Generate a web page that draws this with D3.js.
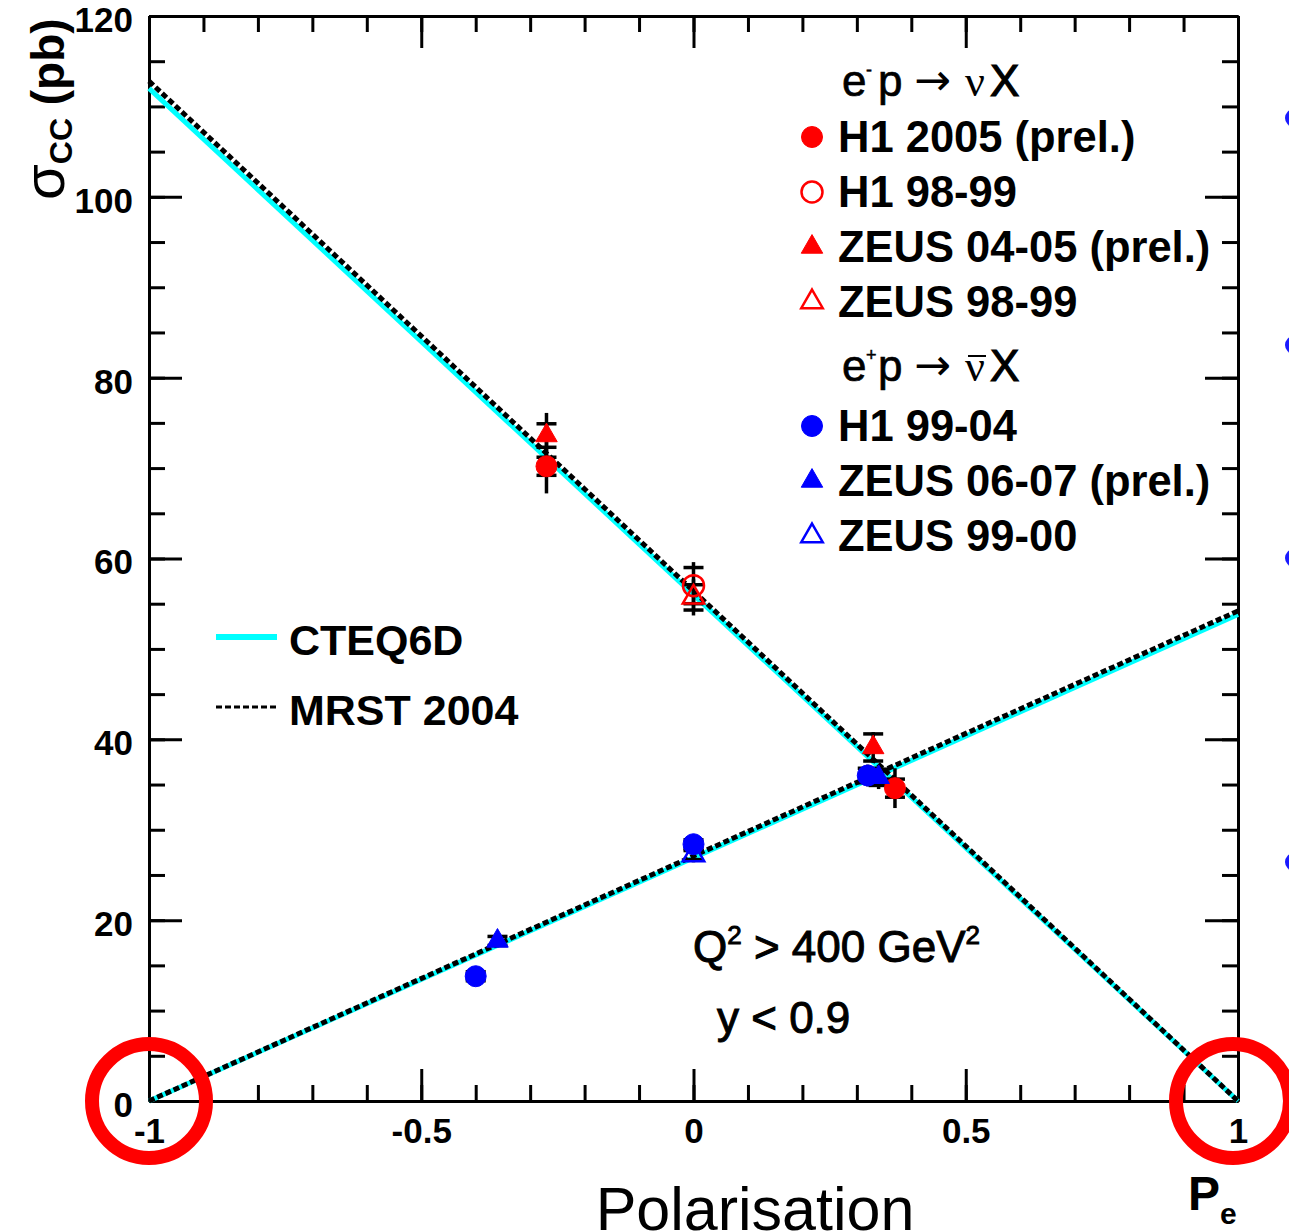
<!DOCTYPE html>
<html>
<head>
<meta charset="utf-8">
<script src="https://cdn.jsdelivr.net/npm/d3@7"></script>
<style>
  html, body { margin: 0; padding: 0; background: #fff; }
  svg { display: block; }
</style>
</head>
<body>
<div id="chart"></div>
<script>
// CC cross section vs lepton beam polarisation

// SM predictions, straight lines between the ends of the P range
const lineP = [-1, 1];
const cteqEminus = [112.0, 0.0];
const mrstEminus = [112.8, 0.0];
const cteqEplus = [0.0, 53.8];
const mrstEplus = [0.0, 54.2];

// measurements: [P, sigma, stat err, total err]
const h1_2005 = [[-0.27, 70.2, 1.0, 3.0], [0.37, 34.6, 1.0, 2.2]];
const h1_9899 = [[0.0, 57.0, 2.0, 2.6]];
const zeus_0405 = [[-0.27, 73.6, 1.3, 2.5], [0.33, 39.1, 1.5, 1.7]];
const zeus_9899 = [[0.0, 55.7, 1.4, 2.0]];
const h1_9904 = [[-0.40, 13.8, 0.5, 0.8], [0.0, 28.4, 0.5, 0.7], [0.32, 36.0, 0.8, 1.2]];
const zeus_0607 = [[-0.36, 17.7, 0.5, 0.7], [0.34, 35.8, 0.9, 1.3]];
const zeus_9900 = [[0.0, 27.2, 0.5, 0.8]];

const xMajorTicks = [-1, -0.5, 0, 0.5, 1];
const xMajorLabels = ["-1", "-0.5", "0", "0.5", "1"];
const xMinorTicks = [-1, -0.9, -0.8, -0.7, -0.6, -0.5, -0.4, -0.3, -0.2, -0.1, 0,
                     0.1, 0.2, 0.3, 0.4, 0.5, 0.6, 0.7, 0.8, 0.9, 1];
const yMajorTicks = [0, 20, 40, 60, 80, 100, 120];
const yMinorTicks = [0, 5, 10, 15, 20, 25, 30, 35, 40, 45, 50, 55, 60,
                     65, 70, 75, 80, 85, 90, 95, 100, 105, 110, 115, 120];

const legendNames = ["H1 2005 (prel.)", "H1 98-99", "ZEUS 04-05 (prel.)", "ZEUS 98-99",
                     "H1 99-04", "ZEUS 06-07 (prel.)", "ZEUS 99-00"];
const modelNames = ["CTEQ6D", "MRST 2004"];

const RED = "#ff0000", BLUE = "#0000ff", CYAN = "#00ffff";
const SANS = "'Liberation Sans', Arial, Helvetica, sans-serif";
const SERIF = "'Liberation Serif', 'DejaVu Serif', serif";

const datasets = [
    { pts: h1_2005,   color: RED,  shape: "circle",   filled: true,  name: legendNames[0], ly: 137 },
    { pts: h1_9899,   color: RED,  shape: "circle",   filled: false, name: legendNames[1], ly: 192 },
    { pts: zeus_0405, color: RED,  shape: "triangle", filled: true,  name: legendNames[2], ly: 247 },
    { pts: zeus_9899, color: RED,  shape: "triangle", filled: false, name: legendNames[3], ly: 302 },
    { pts: h1_9904,   color: BLUE, shape: "circle",   filled: true,  name: legendNames[4], ly: 426 },
    { pts: zeus_0607, color: BLUE, shape: "triangle", filled: true,  name: legendNames[5], ly: 481 },
    { pts: zeus_9900, color: BLUE, shape: "triangle", filled: false, name: legendNames[6], ly: 536 }
];

const width = 1289, height = 1232;
const plotLeft = 149, plotRight = 1238, plotTop = 16, plotBottom = 1101;

const svg = d3.select("#chart").append("svg")
    .attr("width", width)
    .attr("height", height)
    .style("background", "#fff");

const x = d3.scaleLinear().domain([-1, 1]).range([plotLeft, plotRight]);
const y = d3.scaleLinear().domain([0, 120]).range([plotBottom, plotTop]);

// axes, ticks inward on all four sides
function styleAxis(g) {
    g.selectAll("path.domain").attr("stroke", "#000").attr("stroke-width", 3);
    g.selectAll(".tick line").attr("stroke", "#000").attr("stroke-width", 3);
}

const axisFont = g => g.selectAll("text")
    .attr("fill", "#000")
    .style("font-family", SANS)
    .style("font-size", "35px")
    .style("font-weight", "bold");

svg.append("g").attr("transform", `translate(0,${plotBottom})`)
    .call(d3.axisBottom(x).tickValues(xMinorTicks).tickSize(-16).tickSizeOuter(0).tickFormat(""))
    .call(styleAxis);
svg.append("g").attr("transform", `translate(0,${plotBottom})`)
    .call(d3.axisBottom(x).tickValues(xMajorTicks).tickSize(-32).tickSizeOuter(0).tickPadding(17)
        .tickFormat((d, i) => xMajorLabels[i]))
    .call(styleAxis).call(axisFont);

svg.append("g").attr("transform", `translate(0,${plotTop})`)
    .call(d3.axisTop(x).tickValues(xMinorTicks).tickSize(-16).tickSizeOuter(0).tickFormat(""))
    .call(styleAxis);
svg.append("g").attr("transform", `translate(0,${plotTop})`)
    .call(d3.axisTop(x).tickValues(xMajorTicks).tickSize(-32).tickSizeOuter(0).tickFormat(""))
    .call(styleAxis);

svg.append("g").attr("transform", `translate(${plotLeft},0)`)
    .call(d3.axisLeft(y).tickValues(yMinorTicks).tickSize(-16).tickSizeOuter(0).tickFormat(""))
    .call(styleAxis);
svg.append("g").attr("transform", `translate(${plotLeft},0)`)
    .call(d3.axisLeft(y).tickValues(yMajorTicks).tickSize(-33).tickSizeOuter(0).tickPadding(16)
        .tickFormat(d3.format("d")))
    .call(styleAxis).call(axisFont)
    .selectAll("text").attr("dy", "0.44em");

svg.append("g").attr("transform", `translate(${plotRight},0)`)
    .call(d3.axisRight(y).tickValues(yMinorTicks).tickSize(-16).tickSizeOuter(0).tickFormat(""))
    .call(styleAxis);
svg.append("g").attr("transform", `translate(${plotRight},0)`)
    .call(d3.axisRight(y).tickValues(yMajorTicks).tickSize(-33).tickSizeOuter(0).tickFormat(""))
    .call(styleAxis);

// model lines
const line = d3.line().x(d => x(d[0])).y(d => y(d[1]));
const zipP = vals => lineP.map((p, i) => [p, vals[i]]);

[cteqEplus, cteqEminus].forEach(v => {
    svg.append("path").datum(zipP(v)).attr("d", line)
        .attr("fill", "none").attr("stroke", CYAN).attr("stroke-width", 5);
});
[mrstEplus, mrstEminus].forEach(v => {
    svg.append("path").datum(zipP(v)).attr("d", line)
        .attr("fill", "none").attr("stroke", "#000").attr("stroke-width", 5)
        .attr("stroke-dasharray", "6,3");
});

// markers
const circleSym = d3.symbol().type(d3.symbolCircle).size(Math.PI * 10.5 * 10.5);
const triSym = d3.symbol().type(d3.symbolTriangle).size(200);

function drawMarker(g, ds, cx, cy) {
    g.append("path")
        .attr("d", ds.shape === "circle" ? circleSym() : triSym())
        .attr("transform", `translate(${cx},${cy})`)
        .attr("fill", ds.filled ? ds.color : "none")
        .attr("stroke", ds.color)
        .attr("stroke-width", ds.filled ? 1 : 2.5);
}

// error bars: full line = total, caps at stat error
const bars = svg.append("g");
datasets.forEach(ds => {
    ds.pts.forEach(p => {
        const cx = x(p[0]);
        bars.append("line")
            .attr("x1", cx).attr("x2", cx)
            .attr("y1", y(p[1] - p[3])).attr("y2", y(p[1] + p[3]))
            .attr("stroke", "#000").attr("stroke-width", 3.5);
        [p[1] - p[2], p[1] + p[2]].forEach(v => {
            bars.append("line")
                .attr("x1", cx - 10).attr("x2", cx + 10)
                .attr("y1", y(v)).attr("y2", y(v))
                .attr("stroke", "#000").attr("stroke-width", 3.5);
        });
    });
});

const marks = svg.append("g");
datasets.forEach(ds => {
    ds.pts.forEach(p => drawMarker(marks, ds, x(p[0]), y(p[1])));
});

// data legend
const leg = svg.append("g");
datasets.forEach(ds => {
    drawMarker(leg, ds, 812, ds.ly);
    leg.append("text")
        .attr("x", 838).attr("y", ds.ly + 15)
        .style("font-family", SANS).style("font-size", "43.5px").style("font-weight", "bold")
        .text(ds.name);
});

// reaction headers, glyphs placed one by one
function header(yb, sup, bar) {
    const g = leg.append("g");
    const put = (tx, ty, s, fam, size, sw) => g.append("text")
        .attr("x", tx).attr("y", ty)
        .style("font-family", fam).style("font-size", size + "px")
        .attr("stroke", "#000").attr("stroke-width", sw)
        .text(s);
    put(842, yb, "e", SANS, 44, 0.7);
    put(866, yb - 20, sup, SANS, 18, 0.5);
    put(878, yb, "p", SANS, 44, 0.7);
    put(914, yb - 1, "\u2192", "'DejaVu Sans'", 44, 0);
    put(965, yb, "\u03bd", SERIF, 44, 0);
    put(990, yb, "X", SANS, 44, 1.2);
    if (bar) {
        g.append("line").attr("x1", 968).attr("x2", 986)
            .attr("y1", yb - 25).attr("y2", yb - 25)
            .attr("stroke", "#000").attr("stroke-width", 2);
    }
}
header(96, "-", false);
header(381, "+", true);

// model legend
leg.append("line").attr("x1", 216).attr("x2", 277).attr("y1", 637).attr("y2", 637)
    .attr("stroke", CYAN).attr("stroke-width", 6);
leg.append("line").attr("x1", 216).attr("x2", 277).attr("y1", 707).attr("y2", 707)
    .attr("stroke", "#000").attr("stroke-width", 3).attr("stroke-dasharray", "6,3");
modelNames.forEach((n, i) => {
    leg.append("text").attr("x", 289).attr("y", 655 + i * 70)
        .style("font-family", SANS).style("font-size", "43px").style("font-weight", "bold")
        .text(n);
});

// cuts
const cuts = svg.append("g")
    .style("font-family", SANS).style("font-size", "44px")
    .attr("stroke", "#000").attr("stroke-width", 1);
const q = cuts.append("text").attr("x", 693).attr("y", 962);
q.append("tspan").text("Q");
q.append("tspan").attr("dy", -18).style("font-size", "26px").text("2");
q.append("tspan").attr("dy", 18).text(" > 400 GeV");
q.append("tspan").attr("dy", -18).style("font-size", "26px").text("2");
cuts.append("text").attr("x", 717).attr("y", 1033).text("y < 0.9");

// axis titles
const yt = svg.append("text").attr("transform", "translate(64,200) rotate(-90)")
    .style("font-family", SANS);
yt.append("tspan").style("font-size", "58px").text("\u03c3");
yt.append("tspan").attr("dy", 8).style("font-size", "32px").style("font-weight", "bold").text("CC");
yt.append("tspan").attr("dy", -8).style("font-size", "46px").style("font-weight", "bold").text(" (pb)");

const xt = svg.append("text").attr("x", 1188).attr("y", 1210)
    .style("font-family", SANS).style("font-weight", "bold");
xt.append("tspan").style("font-size", "48px").text("P");
xt.append("tspan").attr("dy", 14).style("font-size", "30px").text("e");

svg.append("text").attr("x", 755).attr("y", 1230)
    .attr("text-anchor", "middle")
    .style("font-family", SANS).style("font-size", "61px")
    .text("Polarisation");

// slide bullets cut off at the right edge
[118, 345, 558, 862].forEach(by => {
    svg.append("circle").attr("cx", 1294).attr("cy", by).attr("r", 9).attr("fill", "#1a1aff");
});

// red highlight rings at the ends of the P range
[x(-1), x(1) - 5].forEach(cx => {
    svg.append("circle").attr("cx", cx).attr("cy", plotBottom)
        .attr("r", 57).attr("fill", "none")
        .attr("stroke", RED).attr("stroke-width", 14);
});
</script>
</body>
</html>
